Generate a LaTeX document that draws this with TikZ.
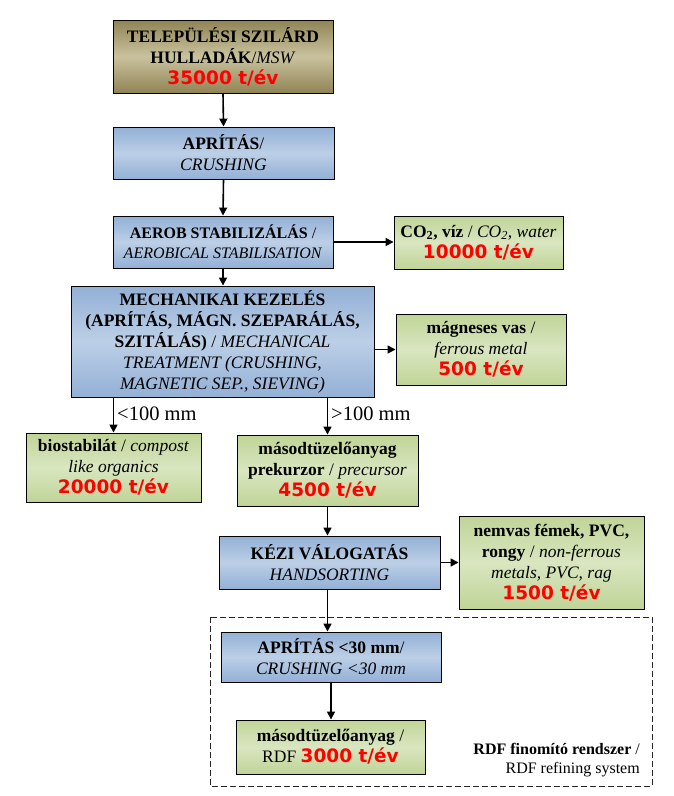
\documentclass[tikz,border=0pt]{standalone}
\usepackage{fontspec}
\setmainfont{Liberation Serif}
\newfontfamily\numfont{DejaVu Sans}
\usetikzlibrary{arrows.meta}
\definecolor{bluemid}{HTML}{BCCFE6}
\definecolor{blueedge}{HTML}{93B0D6}
\definecolor{greenmid}{HTML}{D9E6C0}
\definecolor{greenedge}{HTML}{C0D497}
\definecolor{olivemid}{HTML}{C9C29E}
\definecolor{oliveedge}{HTML}{908455}
\newcommand{\redval}[1]{{\numfont\bfseries\fontsize{18.5}{21}\selectfont\color{red}#1}}
\begin{document}
\begin{tikzpicture}[x=1pt,y=-1pt,
  box/.style={draw=black, line width=0.9pt, align=center, inner sep=1pt,
    font=\fontsize{17.5}{21}\selectfont},
  bluebox/.style={box, top color=blueedge, bottom color=blueedge, middle color=bluemid},
  greenbox/.style={box, top color=greenedge, bottom color=greenedge, middle color=greenmid},
  olivebox/.style={box, top color=oliveedge, bottom color=oliveedge, middle color=olivemid},
  arr/.style={line width=1.6pt, -{Triangle[length=8pt,width=8pt]}},
  lbl/.style={font=\fontsize{20.5}{23}\selectfont, inner sep=0pt}]
\fill[white] (0,0) rectangle (674,796);
\useasboundingbox (0,0) rectangle (674,796);

% dashed refining frame
\draw[line width=1pt, dash pattern=on 6pt off 3pt, black!85] (210,617) rectangle (652,786);

\node[olivebox, minimum width=220, minimum height=73] (msw) at (223,56.5)
  {\textbf{TELEPÜLÉSI SZILÁRD}\\ \textbf{HULLADÁK}/\textit{MSW}\\ \redval{35000 t/év}};
\node[bluebox, minimum width=221, minimum height=52] (crush) at (223.5,153)
  {\textbf{APRÍTÁS}/\\ \textit{CRUSHING}};
\node[bluebox, minimum width=220, minimum height=52, font=\fontsize{16}{20}\selectfont] (aerob) at (223,242)
  {\textbf{AEROB STABILIZÁLÁS} /\\ \textit{AEROBICAL STABILISATION}};
\node[greenbox, minimum width=169, minimum height=53] (co2) at (478.5,242.5)
  {\textbf{CO\textsubscript{2}, víz} / \textit{CO\textsubscript{2}, water}\\ \redval{10000 t/év}};
\node[bluebox, minimum width=303, minimum height=111] (mech) at (222.5,341.5)
  {\textbf{MECHANIKAI KEZELÉS}\\ \textbf{(APRÍTÁS, MÁGN. SZEPARÁLÁS,}\\
   \textbf{SZITÁLÁS)} / \textit{MECHANICAL}\\ \textit{TREATMENT (CRUSHING,}\\
   \textit{MAGNETIC SEP., SIEVING)}};
\node[greenbox, minimum width=170, minimum height=71] (ferr) at (481,349.5)
  {\textbf{mágneses vas} /\\ \textit{ferrous metal}\\ \redval{500 t/év}};
\node[greenbox, minimum width=175, minimum height=69] (bio) at (113.5,467.5)
  {\textbf{biostabilát} / \textit{compost}\\ \textit{like organics}\\ \redval{20000 t/év}};
\node[greenbox, minimum width=181, minimum height=71] (prek) at (327.5,470.5)
  {\textbf{másodtüzelőanyag}\\ \textbf{prekurzor} / \textit{precursor}\\ \redval{4500 t/év}};
\node[bluebox, minimum width=221, minimum height=53] (hand) at (329.5,562.5)
  {\textbf{KÉZI VÁLOGATÁS}\\ \textit{HANDSORTING}};
\node[greenbox, minimum width=185, minimum height=93] (nonfe) at (551.5,562.5)
  {\textbf{nemvas fémek, PVC,}\\ \textbf{rongy} / \textit{non-ferrous}\\ \textit{metals, PVC, rag}\\ \redval{1500 t/év}};
\node[bluebox, minimum width=220, minimum height=50] (crush30) at (331,657)
  {\textbf{APRÍTÁS <30 mm}/\\ \textit{CRUSHING <30 mm}};
\node[greenbox, minimum width=189, minimum height=54] (rdf) at (330.5,747)
  {\textbf{másodtüzelőanyag} /\\ RDF \redval{3000 t/év}};
\node[align=right, anchor=east, inner sep=0pt, font=\fontsize{16}{19}\selectfont] (sys) at (640,760)
  {\textbf{RDF finomító rendszer} /\\ RDF refining system};

% connectors
\draw[arr] (msw.south) -- (crush.north);
\draw[arr] (crush.south) -- (aerob.north);
\draw[arr] (aerob.east) -- (aerob.east -| co2.west);
\draw[arr] (aerob.south) -- (aerob.south |- mech.north);
\draw[arr] (mech.east |- ferr.west) -- (ferr.west);
\draw[arr] (bio.north |- mech.south) -- (bio.north);
\draw[arr] (prek.north |- mech.south) -- (prek.north);
\node[lbl, anchor=west] (lt) at (117,414) {<100 mm};
\node[lbl, anchor=west] (gt) at (331,414) {>100 mm};
\draw[arr] (prek.south) -- (prek.south |- hand.north);
\draw[arr] (hand.east) -- (nonfe.west);
\draw[arr] (prek.south |- hand.south) -- (prek.south |- crush30.north);
\draw[arr] (crush30.south) -- (crush30.south |- rdf.north);
\end{tikzpicture}
\end{document}
